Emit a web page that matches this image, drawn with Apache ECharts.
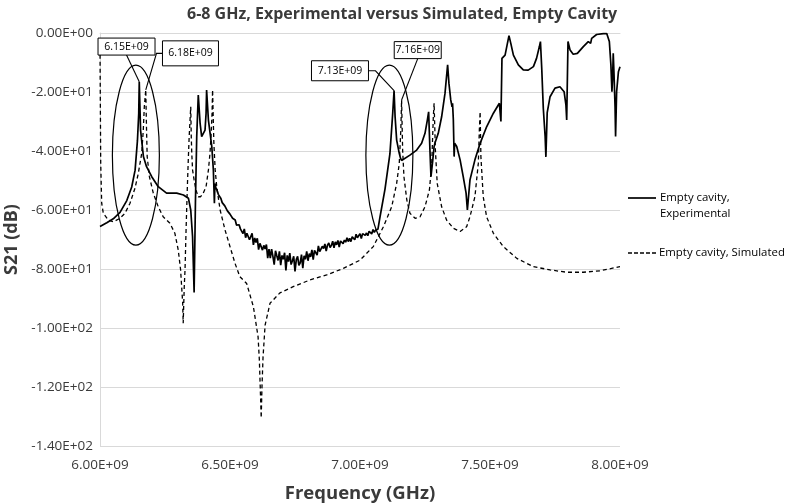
<!DOCTYPE html>
<html><head><meta charset="utf-8">
<script src="https://cdn.jsdelivr.net/npm/echarts@6/dist/echarts.min.js"></script>
<style>html,body{margin:0;padding:0;background:#fff}#c{width:788px;height:503px}</style>
</head><body><div id="c"></div>
<script>
// ---- Data (frequency in GHz, S21 in dB) ----
const expFreq = [
6.000,6.026,6.051,6.077,6.103,6.122,6.135,6.144,6.149,6.151,6.156,6.167,6.179,6.199,6.224,6.256,6.295,6.321,6.340,6.349,6.356,6.362,6.367,6.372,6.378,6.385,6.391,6.397,6.404,6.408,6.410,6.417,6.430,6.436,6.440,6.442,6.446,
6.450,6.455,6.460,6.465,6.470,6.475,6.480,6.485,6.490,6.495,6.500,6.505,6.510,6.515,6.520,6.525,6.530,6.535,6.540,6.545,
6.550,6.555,6.560,6.565,6.570,6.575,6.580,6.585,6.590,6.595,6.600,6.605,6.610,6.615,6.620,6.625,6.630,6.635,6.640,6.645,
6.650,6.655,6.660,6.665,6.670,6.675,6.680,6.685,6.690,6.695,6.700,6.705,6.710,6.715,6.720,6.725,6.730,6.735,6.740,6.745,
6.750,6.755,6.760,6.765,6.770,6.775,6.780,6.785,6.790,6.795,6.800,6.805,6.810,6.815,6.820,6.825,6.830,6.835,6.840,6.845,
6.850,6.855,6.860,6.865,6.870,6.875,6.880,6.885,6.890,6.895,6.900,6.905,6.910,6.915,6.920,6.925,6.930,6.935,6.940,6.945,
6.950,6.955,6.960,6.965,6.970,6.975,6.980,6.985,6.990,6.995,7.000,7.005,7.010,7.015,7.020,7.025,7.030,7.035,7.040,7.045,7.050,7.055,7.060,
7.069,7.077,7.096,7.115,7.126,7.131,7.135,7.141,7.151,7.156,7.160,7.192,7.218,7.237,7.250,7.259,7.264,7.269,7.273,7.280,7.285,7.288,7.301,7.314,7.327,7.337,7.342,
7.349,7.354,7.356,7.359,7.362,7.364,7.372,7.385,7.397,7.408,7.413,7.423,7.442,7.462,7.487,7.513,7.536,7.542,7.546,7.551,7.558,7.567,7.573,7.580,7.590,7.609,7.628,7.647,7.667,7.679,
7.690,7.694,7.699,7.705,7.712,7.715,7.720,7.731,7.750,7.769,7.785,7.792,7.795,7.800,7.808,7.820,7.836,7.859,7.878,7.885,7.887,7.891,7.910,7.936,7.949,7.959,7.965,7.969,7.972,7.974,
7.977,7.981,7.983,7.987,7.994,8.000];
const expS21 = [
-65.6,-64.3,-63.0,-60.8,-56.8,-52.2,-46.5,-36.5,-27.2,-16.5,-32.9,-41.9,-45.3,-48.7,-52.1,-54.3,-54.3,-54.9,-56.0,-60.0,-69.0,-88.0,-57.7,-35.1,-21.0,-30.6,-35.1,-35.7,-32.9,-27.2,-19.3,-29.5,-38.5,-46.4,-57.7,-51.0,-52.6,
-53.3,-54.7,-54.9,-56.1,-57.5,-57.3,-58.6,-58.6,-60.3,-60.3,-61.4,-61.2,-62.8,-63.2,-63.4,-65.1,-64.8,-65.0,-66.4,-66.5,
-68.0,-66.4,-69.4,-67.9,-67.7,-70.1,-69.5,-67.9,-71.8,-69.5,-71.0,-69.6,-73.4,-71.3,-70.9,-73.6,-72.0,-73.2,-71.7,-76.3,
-73.3,-76.3,-73.3,-75.7,-78.5,-73.8,-75.5,-77.1,-74.0,-78.7,-75.4,-76.7,-74.5,-80.5,-75.4,-77.5,-74.6,-78.5,-77.2,-75.7,
-80.8,-76.8,-75.7,-78.8,-77.9,-75.1,-79.7,-75.5,-76.7,-74.0,-77.2,-74.8,-75.9,-73.5,-76.8,-73.7,-73.9,-75.3,-72.2,-74.1,
-74.5,-72.3,-73.1,-71.5,-73.9,-71.9,-71.2,-72.7,-72.0,-70.6,-72.8,-70.8,-71.8,-70.3,-72.6,-70.5,-70.0,-71.4,-70.2,-70.9,
-69.4,-70.7,-69.6,-70.7,-69.1,-69.2,-70.1,-68.2,-69.4,-68.9,-68.0,-69.7,-68.0,-67.7,-68.6,-67.8,-68.7,-67.2,-67.5,-68.1,-66.6,-67.6,-66.8,
-66.5,-62.3,-53.0,-41.0,-27.0,-19.5,-28.4,-36.3,-40.8,-42.5,-43.2,-41.4,-39.7,-37.4,-34.0,-29.5,-26.7,-39.7,-48.7,-43.0,-38.5,-37.4,-34.0,-28.4,-20.4,-10.8,-17.0,
-22.7,-25.0,-23.8,-29.5,-41.9,-37.4,-38.5,-43.0,-48.7,-54.3,-60.0,-49.8,-43.0,-37.4,-31.8,-27.2,-23.8,-30.0,-8.6,-9.2,-7.5,-3.5,-0.9,-3.5,-7.5,-10.8,-12.5,-12.6,-11.4,-8.6,
-4.6,-2.9,-12.0,-25.5,-35.0,-42.0,-27.0,-21.6,-18.7,-18.2,-19.9,-24.4,-29.5,-2.9,-5.8,-7.2,-6.9,-4.6,-2.9,-2.3,-3.5,-1.8,-0.5,-0.2,-0.2,-2.9,-10.8,-19.9,-14.0,-6.9,
-14.0,-25.0,-35.1,-19.9,-13.1,-11.4];
const simFreq = [
6.000,6.0027,6.0065,6.0127,6.0319,6.0512,6.0769,6.0962,6.1154,6.1346,6.1473,6.1604,6.1665,6.1704,6.1760,6.1790,6.1815,6.190,6.205,6.224,6.243,6.269,6.288,6.301,6.310,6.318,6.320,
6.324,6.327,6.331,6.336,6.340,6.343,6.349,6.351,6.353,6.356,6.362,6.369,6.378,6.387,6.397,6.408,6.417,6.423,6.427,6.431,6.433,6.436,6.438,6.443,6.449,6.462,6.481,6.500,6.519,6.538,
6.564,6.590,6.608,6.613,6.617,6.620,6.623,6.627,6.635,6.654,6.692,6.743,6.808,6.872,6.936,7.000,7.051,7.090,7.122,7.141,7.151,7.157,7.160,7.164,7.169,7.180,7.192,7.212,7.231,7.250,
7.267,7.276,7.282,7.285,7.290,7.297,7.314,7.333,7.359,7.385,7.410,7.423,7.442,7.455,7.459,7.462,7.465,7.474,7.487,7.513,7.551,7.603,7.667,7.731,7.795,7.859,7.923,8.000];
const simS21 = [
-5.0,-44.0,-57.7,-61.1,-63.4,-64.0,-62.8,-61.1,-57.7,-52.6,-47.6,-40.8,-32.9,-25.0,-19.3,-32.9,-41.9,-48.7,-54.3,-58.9,-62.3,-64.5,-67.9,-73.6,-80.3,-91.6,-98.4,
-86.0,-80.3,-66.8,-52.1,-41.9,-35.1,-25.0,-35.1,-40.8,-46.4,-49.8,-53.2,-55.5,-55.5,-54.3,-52.1,-46.4,-40.8,-35.1,-27.2,-19.3,-30.6,-37.4,-46.4,-52.1,-60.0,-66.8,-72.4,-78.0,-82.6,
-84.9,-92.8,-103.0,-111.0,-122.0,-130.5,-120.0,-110.0,-99.0,-91.6,-88.1,-86.0,-83.7,-82.0,-79.8,-77.0,-72.4,-65.7,-58.9,-51.0,-44.2,-32.9,-22.7,-39.7,-48.7,-56.6,-61.1,-62.8,-62.3,-58.9,
-53.2,-44.2,-28.4,-23.8,-39.7,-51.0,-58.9,-63.4,-66.2,-67.3,-65.7,-62.3,-55.5,-44.2,-32.9,-26.7,-41.9,-55.5,-62.3,-67.9,-72.4,-76.4,-79.2,-80.3,-81.1,-81.1,-80.6,-79.2];

const seriesNames = ['Empty cavity, Experimental', 'Empty cavity, Simulated'];
const xMin = 6, xMax = 8, xStep = 0.5;
const yMin = -140, yMax = 0, yStep = 20;

// Annotations: label, peak frequency, peak value, box centre (freq, dB)
const annoLabels = ['6.15E+09', '6.18E+09', '7.13E+09', '7.16E+09'];
const annoFreq = [6.151, 6.176, 7.131, 7.160];
const annoS21 = [-16.5, -19.3, -19.5, -22.7];
const annoBoxFreq = [6.102, 6.348, 6.923, 7.222];
const annoBoxS21 = [-4.6, -6.9, -12.8, -5.8];
// Ellipses around resonances: centre freq, centre dB
const ellFreq = [6.138, 7.113];
const ellS21 = [-41.4, -41.4];

function sci(v) {
  if (Math.abs(v) < 1e-9) return '0.00E+00';
  const e = Math.floor(Math.log10(Math.abs(v)) + 1e-9);
  const m = v / Math.pow(10, e);
  return m.toFixed(2) + 'E' + (e < 0 ? '-' : '+') + String(Math.abs(e)).padStart(2, '0');
}

const chart = echarts.init(document.getElementById('c'), null, {renderer: 'canvas'});
const FONT = '"Open Sans", "Liberation Sans", sans-serif';
chart.setOption({
  animation: false,
  backgroundColor: '#fff',
  title: {
    text: '6-8 GHz, Experimental versus Simulated, Empty Cavity',
    left: 182, top: 1,
    textStyle: {fontFamily: FONT, fontSize: 16, fontWeight: 'bold', color: '#3a3a3a'}
  },
  grid: {left: 100, right: 168, top: 33, bottom: 57, containLabel: false, outerBoundsMode: 'none'},
  xAxis: {
    type: 'value', min: xMin, max: xMax, interval: xStep,
    name: 'Frequency (GHz)', nameLocation: 'middle', nameGap: 38,
    nameTextStyle: {fontFamily: FONT, fontSize: 18.5, fontWeight: 'bold', color: '#3a3a3a'},
    axisLine: {show: true, lineStyle: {color: '#d9d9d9'}},
    axisTick: {show: false},
    splitLine: {show: false},
    axisLabel: {fontFamily: FONT, fontSize: 13.5, color: '#3a3a3a', margin: 12,
      formatter: v => sci(v * 1e9)}
  },
  yAxis: {
    type: 'value', min: yMin, max: yMax, interval: yStep,
    name: 'S21 (dB)', nameLocation: 'middle', nameGap: 72,
    nameTextStyle: {fontFamily: FONT, fontSize: 18, fontWeight: 'bold', color: '#3a3a3a'},
    axisLine: {show: true, lineStyle: {color: '#d9d9d9'}},
    axisTick: {show: false},
    splitLine: {show: true, lineStyle: {color: '#d9d9d9'}},
    axisLabel: {fontFamily: FONT, fontSize: 13.5, color: '#3a3a3a', margin: 7,
      formatter: v => sci(v)}
  },
  series: [
    {name: seriesNames[0], type: 'line', symbol: 'none',
     data: expFreq.map((f, i) => [f, expS21[i]]),
     lineStyle: {color: '#000', width: 1.7}, z: 3},
    {name: seriesNames[1], type: 'line', symbol: 'none',
     data: simFreq.map((f, i) => [f, simS21[i]]),
     lineStyle: {color: '#000', width: 1.3, type: [4, 3]}, z: 2}
  ]
});

// ---- Annotations, ellipses and legend drawn as graphics ----
const P = (f, v) => chart.convertToPixel({gridIndex: 0}, [f, v]);
const g = [];
const boxW = [57, 56, 57, 47], boxH = [17, 25, 20, 17];
annoLabels.forEach((lab, i) => {
  const [bx, by] = P(annoBoxFreq[i], annoBoxS21[i]);
  const [px, py] = P(annoFreq[i], annoS21[i]);
  const w = boxW[i], h = boxH[i];
  let pts;
  if (i === 0 || i === 3) pts = [[bx, by + h / 2], [px, py]];
  else if (i === 1) pts = [[bx - w / 2, by], [bx - w / 2 - 6, by], [px, py]];
  else pts = [[bx + w / 2, by], [bx + w / 2 + 7, by], [px, py]];
  g.push({type: 'polyline', shape: {points: pts}, style: {stroke: '#000', lineWidth: 1.1, fill: null}, z: 10});
  g.push({type: 'rect', shape: {x: bx - w / 2, y: by - h / 2, width: w, height: h},
          style: {fill: '#fff', stroke: '#000', lineWidth: 1}, z: 11});
  g.push({type: 'text', x: bx, y: by, style: {text: lab, align: 'center', verticalAlign: 'middle',
          font: '10.5px ' + FONT, fill: '#000'}, z: 12});
});
ellFreq.forEach((f, i) => {
  const [cx, cy] = P(f, ellS21[i]);
  g.push({type: 'ellipse', shape: {cx: cx, cy: cy, rx: 23.5, ry: 90},
          style: {stroke: '#000', lineWidth: 1.2, fill: null}, z: 9});
});
// legend
const LF = '11.4px ' + FONT;
g.push({type: 'line', shape: {x1: 628, y1: 198, x2: 656, y2: 198}, style: {stroke: '#000', lineWidth: 1.7}, z: 10});
g.push({type: 'text', x: 660, y: 198, style: {text: 'Empty cavity,', verticalAlign: 'middle', font: LF, fill: '#000'}});
g.push({type: 'text', x: 660, y: 214, style: {text: 'Experimental', verticalAlign: 'middle', font: LF, fill: '#000'}});
g.push({type: 'line', shape: {x1: 628, y1: 253, x2: 656, y2: 253}, style: {stroke: '#000', lineWidth: 1.3, lineDash: [4, 2]}, z: 10});
g.push({type: 'text', x: 659, y: 253, style: {text: seriesNames[1], verticalAlign: 'middle', font: LF, fill: '#000'}});
chart.setOption({graphic: g});
</script>
</body></html>
